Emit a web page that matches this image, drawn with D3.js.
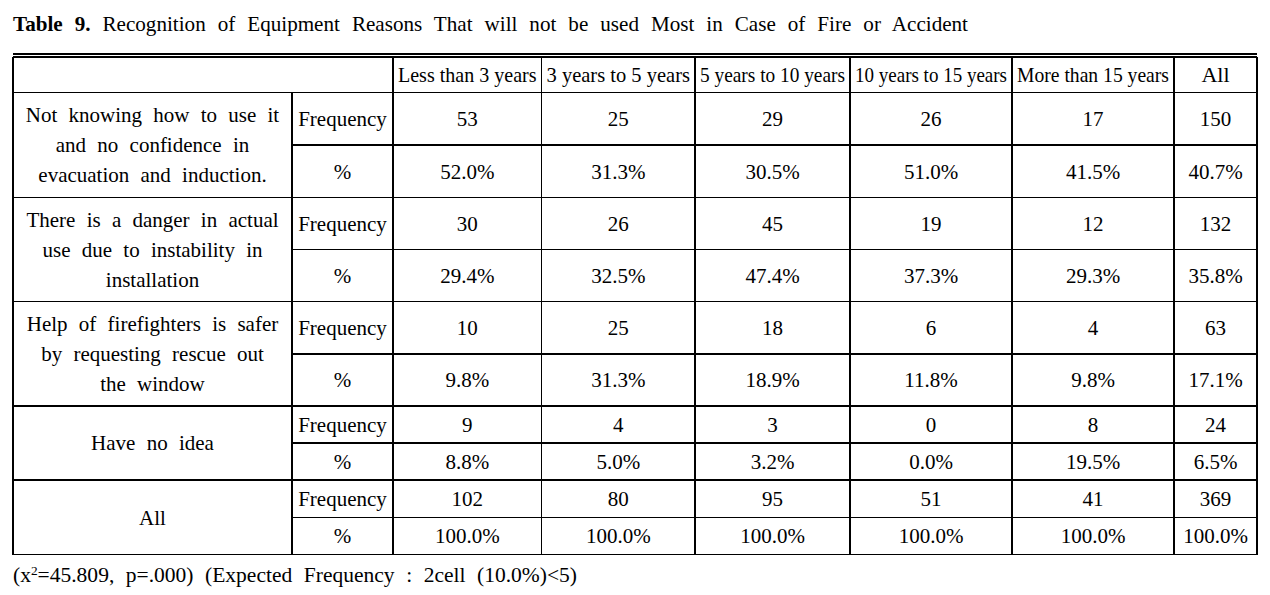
<!DOCTYPE html>
<html>
<head>
<meta charset="utf-8">
<script src="https://cdn.jsdelivr.net/npm/d3@7"></script>
<style>
  html, body { margin: 0; padding: 0; background: #fff; }
  svg text { font-family: "Liberation Serif", "Times New Roman", serif; fill: #000; }
</style>
</head>
<body>
<div id="table9"></div>
<script>
// Table 9: crosstab of reasons by career period

const periods = ["Less than 3 years", "3 years to 5 years", "5 years to 10 years",
    "10 years to 15 years", "More than 15 years", "All"];

const reasonLabels = [
    ["Not knowing how to use it", "and no confidence in", "evacuation and induction."],
    ["There is a danger in actual", "use due to instability in", "installation"],
    ["Help of firefighters is safer", "by requesting rescue out", "the window"],
    ["Have no idea"],
    ["All"]
];

const freqNotKnowing = [53, 25, 29, 26, 17, 150];
const pctNotKnowing = [52.0, 31.3, 30.5, 51.0, 41.5, 40.7];
const freqDanger = [30, 26, 45, 19, 12, 132];
const pctDanger = [29.4, 32.5, 47.4, 37.3, 29.3, 35.8];
const freqFirefighters = [10, 25, 18, 6, 4, 63];
const pctFirefighters = [9.8, 31.3, 18.9, 11.8, 9.8, 17.1];
const freqNoIdea = [9, 4, 3, 0, 8, 24];
const pctNoIdea = [8.8, 5.0, 3.2, 0.0, 19.5, 6.5];
const freqAll = [102, 80, 95, 51, 41, 369];
const pctAll = [100.0, 100.0, 100.0, 100.0, 100.0, 100.0];

const groups = [
    { freq: freqNotKnowing, pct: pctNotKnowing },
    { freq: freqDanger, pct: pctDanger },
    { freq: freqFirefighters, pct: pctFirefighters },
    { freq: freqNoIdea, pct: pctNoIdea },
    { freq: freqAll, pct: pctAll }
];

const W = 1270, H = 595;
const fontSize = 21;
const lineColor = "#000";

// layout: column and row edges of the grid
const colEdges = [13, 292, 393, 541.5, 695, 850, 1012, 1174, 1257];
const headerTop = 57, headerBottom = 92.5;
const groupHeights = [105, 104, 104.5, 74, 74.5];

const rowEdges = [headerBottom];
groupHeights.forEach(h => rowEdges.push(rowEdges[rowEdges.length - 1] + h));

const x = d3.scaleOrdinal().domain(periods)
    .range(periods.map((p, i) => (colEdges[i + 2] + colEdges[i + 3]) / 2));
const colWidth = d3.scaleOrdinal().domain(periods)
    .range(periods.map((p, i) => colEdges[i + 3] - colEdges[i + 2]));
const pctFormat = d => d3.format(".1f")(d) + "%";

const svg = d3.select("#table9").append("svg")
    .attr("width", W)
    .attr("height", H)
    .attr("viewBox", `0 0 ${W} ${H}`);

svg.append("rect").attr("width", W).attr("height", H).attr("fill", "#fff");

// title
const title = svg.append("text")
    .attr("x", 13)
    .attr("y", 31)
    .attr("font-size", 22)
    .attr("textLength", 955)
    .attr("lengthAdjust", "spacingAndGlyphs")
    .style("word-spacing", "7px");
title.append("tspan").attr("font-weight", "bold").text("Table 9.");
title.append("tspan").text(" Recognition of Equipment Reasons That will not be used Most in Case of Fire or Accident");

const lines = svg.append("g").attr("stroke", lineColor).attr("shape-rendering", "crispEdges");

// top double rule
lines.append("line").attr("x1", colEdges[0]).attr("x2", colEdges[8])
    .attr("y1", 54).attr("y2", 54).attr("stroke-width", 2);
lines.append("line").attr("x1", colEdges[0]).attr("x2", colEdges[8])
    .attr("y1", headerTop).attr("y2", headerTop).attr("stroke-width", 1.5);

// horizontal group rules
rowEdges.forEach(yv => {
    lines.append("line").attr("x1", colEdges[0]).attr("x2", colEdges[8])
        .attr("y1", yv).attr("y2", yv).attr("stroke-width", 1.5);
});

// split rule between Frequency and %
groupHeights.forEach((h, i) => {
    const mid = (rowEdges[i] + rowEdges[i + 1]) / 2;
    lines.append("line").attr("x1", colEdges[1]).attr("x2", colEdges[8])
        .attr("y1", mid).attr("y2", mid).attr("stroke-width", 1.5);
});

// vertical rules
colEdges.forEach((xv, i) => {
    lines.append("line")
        .attr("x1", xv).attr("x2", xv)
        .attr("y1", i === 1 ? headerBottom : headerTop)
        .attr("y2", rowEdges[rowEdges.length - 1])
        .attr("stroke-width", 1.5);
});

// header texts
svg.append("g").selectAll("text")
    .data(periods)
    .join("text")
    .attr("x", d => x(d))
    .attr("y", (headerTop + headerBottom) / 2)
    .attr("dy", "0.35em")
    .attr("text-anchor", "middle")
    .attr("font-size", 22)
    .attr("textLength", d => d === "All" ? null : colWidth(d) - 10)
    .attr("lengthAdjust", "spacingAndGlyphs")
    .text(d => d);

// body
groups.forEach((g, gi) => {
    const top = rowEdges[gi], bottom = rowEdges[gi + 1];
    const mid = (top + bottom) / 2;
    const freqY = (top + mid) / 2;
    const pctY = (mid + bottom) / 2;

    const labelLines = reasonLabels[gi];
    const lineH = 30;
    svg.append("g").selectAll("text")
        .data(labelLines)
        .join("text")
        .attr("x", (colEdges[0] + colEdges[1]) / 2)
        .attr("y", (d, i) => mid + (i - (labelLines.length - 1) / 2) * lineH)
        .attr("dy", "0.35em")
        .attr("text-anchor", "middle")
        .attr("font-size", fontSize)
        .style("word-spacing", "6px")
        .text(d => d);

    svg.append("text")
        .attr("x", (colEdges[1] + colEdges[2]) / 2)
        .attr("y", freqY)
        .attr("dy", "0.35em")
        .attr("text-anchor", "middle")
        .attr("font-size", fontSize)
        .text("Frequency");

    svg.append("text")
        .attr("x", (colEdges[1] + colEdges[2]) / 2)
        .attr("y", pctY)
        .attr("dy", "0.35em")
        .attr("text-anchor", "middle")
        .attr("font-size", fontSize)
        .text("%");

    svg.append("g").selectAll("text")
        .data(g.freq)
        .join("text")
        .attr("x", (d, i) => x(periods[i]))
        .attr("y", freqY)
        .attr("dy", "0.35em")
        .attr("text-anchor", "middle")
        .attr("font-size", fontSize)
        .text(d => d);

    svg.append("g").selectAll("text")
        .data(g.pct)
        .join("text")
        .attr("x", (d, i) => x(periods[i]))
        .attr("y", pctY)
        .attr("dy", "0.35em")
        .attr("text-anchor", "middle")
        .attr("font-size", fontSize)
        .text(d => pctFormat(d));
});

// footnote
const note = svg.append("text")
    .attr("x", 13)
    .attr("y", 582)
    .attr("font-size", fontSize)
    .attr("textLength", 564)
    .attr("lengthAdjust", "spacingAndGlyphs")
    .style("word-spacing", "6px");
note.append("tspan").text("(x");
note.append("tspan").attr("font-size", 13).attr("dy", -7).text("2");
note.append("tspan").attr("dy", 7).text("=45.809, p=.000) (Expected Frequency : 2cell (10.0%)<5)");
</script>
</body>
</html>
